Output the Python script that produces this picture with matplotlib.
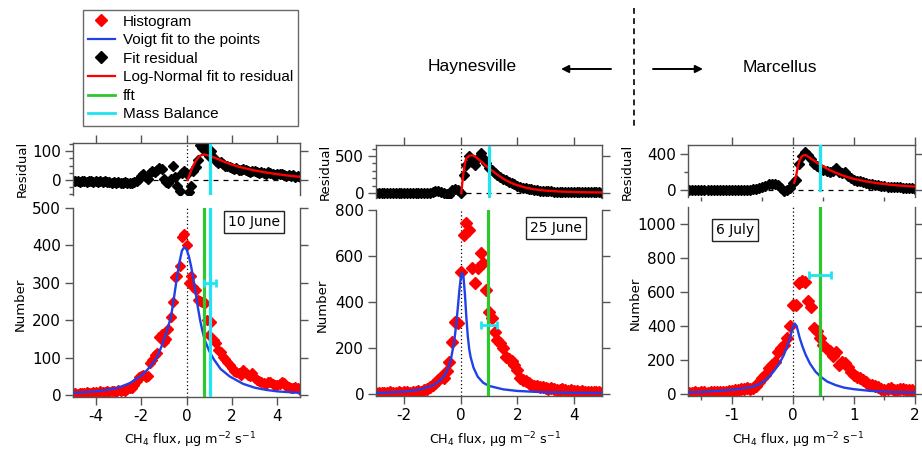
import numpy as np
import matplotlib
matplotlib.use("Agg")
import matplotlib.pyplot as plt
from matplotlib.lines import Line2D
from matplotlib.ticker import MultipleLocator

plt.rcParams["font.family"] = ["DejaVu Sans"]
plt.rcParams["mathtext.fontset"] = "dejavusans"
plt.rcParams["axes.unicode_minus"] = False

# ------------------------------------------------------------------ data
DATES = ["10 June", "25 June", "6 July"]
BASINS = ["Haynesville", "Marcellus"]
LEGEND_LABELS = ["Histogram", "Voigt fit to the points", "Fit residual",
                 "Log-Normal fit to residual", "fft", "Mass Balance"]
XLABEL = r"CH$_4$ flux, µg m$^{-2}$ s$^{-1}$"

# 10 June flight
JUN10_BINS = np.round(np.linspace(-5.0, 5.0, 101), 2)
JUN10_HIST = [5, 6, 4, 7, 6, 5, 8, 7, 6, 9,
              8, 7, 10, 8, 9, 11, 8, 12, 10, 9,
              13, 11, 14, 12, 16, 18, 20, 27, 38, 48,
              52, 55, 48, 52, 85, 95, 107, 112, 155, 163,
              143, 150, 178, 210, 250, 315, 318, 345, 422, 430,
              400, 300, 318, 290, 282, 255, 252, 250, 245, 200,
              160, 196, 147, 140, 120, 116, 102, 96, 89, 80,
              72, 65, 62, 58, 55, 67, 60, 53, 50, 58,
              45, 40, 38, 36, 33, 31, 34, 36, 30, 28,
              27, 30, 36, 32, 25, 22, 20, 18, 22, 20, 15]
JUN10_RESID = [-4, -5, -3, -6, -4, -5, -6, -4, -5, -7,
               -5, -6, -4, -7, -5, -8, -6, -9, -7, -10,
               -8, -9, -11, -8, -12, -10, -9, -7, -3, 5,
               15, 20, 10, 5, 25, 30, 28, 35, 42, 38,
               2, -8, -12, 5, 50, 10, -22, -38, 25, 30,
               20, -40, -20, 30, 45, 70, 120, 110, 118, 95,
               82, 100, 75, 65, 60, 62, 55, 50, 48, 45,
               40, 38, 42, 35, 33, 38, 35, 30, 28, 32,
               30, 27, 25, 28, 24, 22, 26, 24, 20, 18,
               21, 19, 22, 17, 15, 18, 14, 16, 12, 14, 10]
JUN10_VOIGT_X = [-5, -4.5, -4, -3.5, -3, -2.5, -2, -1.75, -1.5, -1.3, -1.1, -0.9,
                 -0.8, -0.7, -0.6, -0.5, -0.4, -0.3, -0.2, -0.1, 0.0, 0.1, 0.2,
                 0.3, 0.4, 0.5, 0.6, 0.7, 0.8,
                 1.0, 1.2, 1.5, 1.9, 2.5, 3, 3.5, 4, 4.5, 5]
JUN10_VOIGT_Y = [6, 8, 10, 14, 20, 32, 52, 66, 84, 102, 130, 165,
                 185, 205, 240, 282, 322, 358, 386, 395, 390, 372, 345,
                 312, 275, 235, 200, 172, 148,
                 118, 96, 70, 50, 30, 20, 14, 10, 8, 6]
JUN10_LOGN_X = [0.05, 0.1, 0.2, 0.3, 0.4, 0.5, 0.6, 0.7, 0.8, 0.9, 1.0, 1.2,
                1.4, 1.6, 1.8, 2.0, 2.3, 2.6, 3.0, 3.5, 4.0, 4.5, 5.0]
JUN10_LOGN_Y = [0, 10, 32, 50, 65, 76, 84, 87, 88, 86, 84, 78,
                72, 65, 59, 53, 46, 40, 33, 26, 20, 15, 11]

# 25 June flight
JUN25_BINS = np.round(np.linspace(-3.0, 5.0, 81), 2)
JUN25_HIST = [5, 3, 6, 4, 5, 7, 4, 6, 8, 5,
              7, 9, 6, 10, 8, 12, 10, 17, 20, 28,
              40, 48, 60, 72, 68, 100, 140, 228, 314, 307,
              532, 690, 742, 715, 546, 481, 548, 612, 568, 452,
              358, 329, 271, 236, 220, 199, 160, 152, 145, 126,
              104, 70, 62, 55, 48, 40, 36, 33, 30, 28,
              25, 22, 25, 20, 18, 17, 20, 15, 14, 17,
              13, 11, 10, 12, 9, 10, 8, 9, 7, 8, 6]
JUN25_RESID = [-3, 0, 2, -4, 1, -2, 3, 0, -3, 2,
               -1, 3, -2, 1, 4, -3, 2, 0, 5, 3,
               10, 30, 25, 15, 5, -10, -30, 45, 60, 40,
               5, 240, 380, 500, 420, 380, 470, 535, 470, 400,
               340, 305, 270, 240, 215, 190, 170, 150, 130, 115,
               100, 85, 72, 62, 55, 48, 42, 38, 33, 30,
               26, 23, 22, 20, 18, 17, 15, 14, 15, 13,
               12, 11, 12, 10, 9, 10, 8, 9, 7, 8, 6]
JUN25_VOIGT_X = [-3, -2.5, -2, -1.5, -1.2, -1.0, -0.8, -0.6,
                 -0.45, -0.35, -0.25, -0.2, -0.15, -0.1, -0.05, 0.0, 0.05, 0.1,
                 0.15, 0.2, 0.25, 0.3, 0.35,
                 0.45, 0.6, 0.8, 1.0, 1.5, 2.0, 3.0, 4.0, 5.0]
JUN25_VOIGT_Y = [4, 7, 10, 18, 28, 37, 52, 75,
                 112, 150, 215, 260, 314, 380, 450, 505, 527, 505,
                 430, 330, 250, 195, 160,
                 115, 75, 48, 35, 20, 13, 7, 5, 4]
JUN25_LOGN_X = [0.02, 0.05, 0.1, 0.15, 0.2, 0.3, 0.4, 0.5, 0.6, 0.8, 1.0, 1.2,
                1.4, 1.6, 1.8, 2.0, 2.3, 2.6, 3.0, 3.5, 4.0, 4.5, 5.0]
JUN25_LOGN_Y = [0, 120, 280, 410, 475, 505, 510, 495, 465, 400, 335, 275,
                220, 172, 135, 105, 72, 50, 32, 20, 13, 9, 7]

# 6 July flight
JUL06_BINS = np.round(np.linspace(-1.70, 2.00, 75), 2)
JUL06_HIST = [8, 6, 10, 7, 9, 12, 8, 10, 13, 9,
              11, 14, 12, 16, 20, 24, 22, 28, 30, 33,
              30, 38, 45, 70, 95, 112, 150, 172, 190, 245,
              270, 290, 330, 400, 523, 525, 655, 662, 658, 545,
              514, 390, 370, 330, 290, 262, 250, 225, 248, 172,
              190, 180, 160, 130, 110, 100, 92, 80, 72, 55,
              50, 45, 40, 30, 25, 28, 33, 26, 24, 30,
              28, 25, 22, 24, 14]
JUL06_RESID = [2, -2, 1, -3, 0, 2, -2, 1, -1, 3,
               0, -2, 2, -1, 3, 1, -3, 0, 4, -2,
               0, 6, 10, 22, 30, 40, 70, 65, 72, 55,
               20, -10, 5, 20, 80, 110, 290, 380, 420, 390,
               345, 285, 262, 240, 222, 210, 205, 215, 240, 200,
               185, 200, 160, 130, 115, 105, 95, 85, 75, 70,
               62, 55, 50, 45, 40, 38, 33, 30, 35, 28,
               25, 22, 20, 22, 15]
JUL06_VOIGT_X = [-1.72, -1.5, -1.24, -1.0, -0.85, -0.69, -0.58, -0.48, -0.4, -0.32,
                 -0.25, -0.2, -0.15, -0.1, -0.05, 0.0, 0.03, 0.06, 0.11, 0.16,
                 0.21, 0.28, 0.37, 0.46, 0.56, 0.7, 0.84, 1.0, 1.27, 1.6, 2.0]
JUL06_VOIGT_Y = [9, 12, 18, 25, 31, 40, 52, 73, 98, 131,
                 165, 195, 229, 275, 327, 395, 414, 400, 330, 275,
                 229, 178, 131, 100, 73, 52, 37, 28, 18, 12, 8]
JUL06_LOGN_X = [0.02, 0.05, 0.08, 0.11, 0.14, 0.18, 0.22, 0.26, 0.3, 0.35, 0.4,
                0.5, 0.6, 0.7, 0.8, 0.9, 1.0, 1.2, 1.4, 1.6, 1.8, 2.0]
JUL06_LOGN_Y = [80, 150, 260, 330, 370, 388, 385, 365, 345, 325, 300,
                260, 222, 192, 165, 142, 123, 95, 74, 58, 47, 37]

# flux estimates (µg m-2 s-1)
FFT_FLUX = [0.78, 0.97, 0.44]
MB_FLUX = [1.02, 1.01, 0.445]
MB_ERR = [0.27, 0.28, 0.185]
MB_LEVEL = [300, 300, 700]

# ------------------------------------------------------------------ style
RED = "#ff0000"
BLUE = "#2040e8"
GREEN = "#2ec82e"
CYAN = "#20e4f0"
GRAY = "#555555"

W, H = 922, 458
fig = plt.figure(figsize=(W / 100, H / 100), dpi=100)


def add_axes_px(left, top, right, bottom):
    return fig.add_axes([left / W, 1 - bottom / H, (right - left) / W, (bottom - top) / H])


panels = [
    dict(bins=JUN10_BINS, hist=JUN10_HIST, resid=JUN10_RESID,
         vx=JUN10_VOIGT_X, vy=JUN10_VOIGT_Y, lx=JUN10_LOGN_X, ly=JUN10_LOGN_Y,
         xl=(-5, 5), xmaj=2, xmin=None,
         main_px=(73, 208, 300, 397), main_yl=(-5, 500), main_ymaj=100,
         res_px=(73, 143, 300, 195), res_yl=(-52, 128), res_ymaj=100, res_ymin=25,
         mb_main=True, mb_res=(0.0, 0.97), ms=5.4, date_xy=(254, 222)),
    dict(bins=JUN25_BINS, hist=JUN25_HIST, resid=JUN25_RESID,
         vx=JUN25_VOIGT_X, vy=JUN25_VOIGT_Y, lx=JUN25_LOGN_X, ly=JUN25_LOGN_Y,
         xl=(-3, 5), xmaj=2, xmin=None,
         main_px=(376, 210, 602, 396), main_yl=(-9, 800), main_ymaj=200,
         res_px=(376, 145, 602, 198), res_yl=(-68, 650), res_ymaj=500, res_ymin=100,
         mb_main=False, mb_res=(0.0, 0.96), ms=6.0, date_xy=(556, 228)),
    dict(bins=JUL06_BINS, hist=JUL06_HIST, resid=JUL06_RESID,
         vx=JUL06_VOIGT_X, vy=JUL06_VOIGT_Y, lx=JUL06_LOGN_X, ly=JUL06_LOGN_Y,
         xl=(-1.72, 2.0), xmaj=1, xmin=0.5,
         main_px=(688, 207, 915, 396), main_yl=(-12, 1100), main_ymaj=200,
         res_px=(688, 145, 915, 197), res_yl=(-78, 500), res_ymaj=400, res_ymin=200,
         mb_main=False, mb_res=(0.135, 0.98), ms=6.3, date_xy=(735, 230)),
]


def style_axis(ax, kind):
    ax.set_facecolor("none")
    for s in ax.spines.values():
        s.set_color(GRAY)
        s.set_linewidth(1.0)
    ax.tick_params(which="both", direction="out", color=GRAY, width=1.0,
                   labelsize=11, labelcolor="black", pad=3)
    ax.tick_params(which="major", length=5.5)
    ax.tick_params(which="minor", length=3)
    ax.tick_params(axis="y", left=True, right=True, labelleft=True, labelright=False)
    if kind == "main":
        ax.spines["top"].set_visible(False)
        ax.tick_params(axis="x", bottom=True, top=False, labelbottom=True, labeltop=False)
    else:
        ax.spines["bottom"].set_visible(False)
        ax.tick_params(axis="x", bottom=False, top=True, labelbottom=False, labeltop=False)


for i, p in enumerate(panels):
    axm = add_axes_px(*p["main_px"])
    axr = add_axes_px(*p["res_px"])
    style_axis(axm, "main")
    style_axis(axr, "res")

    for ax in (axm, axr):
        ax.set_xlim(*p["xl"])
        ax.xaxis.set_major_locator(MultipleLocator(p["xmaj"]))
        if p["xmin"]:
            ax.xaxis.set_minor_locator(MultipleLocator(p["xmin"]))
        ax.axvline(0, color="black", ls=(0, (1, 2)), lw=0.9, zorder=1)

    # main histogram panel
    axm.set_ylim(*p["main_yl"])
    axm.yaxis.set_major_locator(MultipleLocator(p["main_ymaj"]))
    axm.plot(p["bins"], p["hist"], ls="none", marker="D", ms=p["ms"],
             color=RED, mec=RED, zorder=2)
    axm.plot(p["vx"], p["vy"], color=BLUE, lw=1.7, zorder=3)
    y0, y1 = p["main_yl"]
    f0 = (0 - y0) / (y1 - y0)
    if p["mb_main"]:
        axm.axvline(MB_FLUX[i], ymin=f0, ymax=1, color=CYAN, lw=2.3, zorder=4)
    axm.axvline(FFT_FLUX[i], ymin=f0, ymax=1, color=GREEN, lw=2.3, zorder=4)
    axm.errorbar([MB_FLUX[i]], [MB_LEVEL[i]], xerr=[MB_ERR[i]], fmt="none",
                 ecolor=CYAN, elinewidth=2.0, capsize=3, capthick=2.0, zorder=5)

    # residual panel
    axr.set_ylim(*p["res_yl"])
    axr.yaxis.set_major_locator(MultipleLocator(p["res_ymaj"]))
    axr.yaxis.set_minor_locator(MultipleLocator(p["res_ymin"]))
    axr.axhline(0, color="black", ls=(0, (4, 4)), lw=0.9, zorder=1)
    axr.plot(p["bins"], p["resid"], ls="none", marker="D", ms=4.6,
             color="black", zorder=2)
    axr.plot(p["lx"], p["ly"], color=RED, lw=1.7, zorder=3)
    axr.axvline(MB_FLUX[i], ymin=p["mb_res"][0], ymax=p["mb_res"][1],
                color=CYAN, lw=2.3, zorder=4)

# ------------------------------------------------------------------ annotations
ov = fig.add_axes([0, 0, 1, 1])
ov.set_xlim(0, W)
ov.set_ylim(H, 0)
ov.axis("off")
ov.patch.set_visible(False)

for (x, y), d in zip([p["date_xy"] for p in panels], DATES):
    ov.text(x, y, d, ha="center", va="center", fontsize=10,
            bbox=dict(boxstyle="square,pad=0.3", fc="white", ec="#222222", lw=1.0))

for xc in (190, 495, 798):
    ov.text(xc, 440, XLABEL, ha="center", va="center", fontsize=9.2)

for (xr, yr), (xn, yn) in [((22, 169), (20, 304)), ((325, 172), (322, 305)),
                           ((627, 172), (635, 303))]:
    ov.text(xr, yr, "Residual", rotation=90, ha="center", va="center", fontsize=9.5)
    ov.text(xn, yn, "Number", rotation=90, ha="center", va="center", fontsize=9.5)

ov.text(472, 67, BASINS[0], ha="center", va="center", fontsize=12.5,
        family="Liberation Sans")
ov.text(780, 67, BASINS[1], ha="center", va="center", fontsize=12.5,
        family="Liberation Sans")
arrow = dict(arrowstyle="-|>", color="black", lw=1.4, mutation_scale=11,
             shrinkA=0, shrinkB=0)
ov.annotate("", xy=(561, 69), xytext=(611, 69), arrowprops=arrow)
ov.annotate("", xy=(703, 69), xytext=(653, 69), arrowprops=arrow)
ov.plot([634, 634], [8, 130], color="black", lw=1.2, ls=(0, (3.5, 2.6)))

handles = [
    Line2D([], [], ls="none", marker="D", ms=6.5, color=RED),
    Line2D([], [], color=BLUE, lw=1.6),
    Line2D([], [], ls="none", marker="D", ms=6.5, color="black"),
    Line2D([], [], color=RED, lw=1.6),
    Line2D([], [], color=GREEN, lw=2.0),
    Line2D([], [], color=CYAN, lw=2.0),
]
leg = fig.legend(handles, LEGEND_LABELS, loc="upper left",
                 bbox_to_anchor=(83 / W, 1 - 10 / H), borderaxespad=0,
                 frameon=True, fancybox=False, shadow=False,
                 prop={"family": "Liberation Sans", "size": 11},
                 handlelength=1.8, handletextpad=0.5, labelspacing=0.3,
                 borderpad=0.3)
leg.get_frame().set_edgecolor("#444444")
leg.get_frame().set_linewidth(1.0)

fig.savefig("out.png", dpi=100)
